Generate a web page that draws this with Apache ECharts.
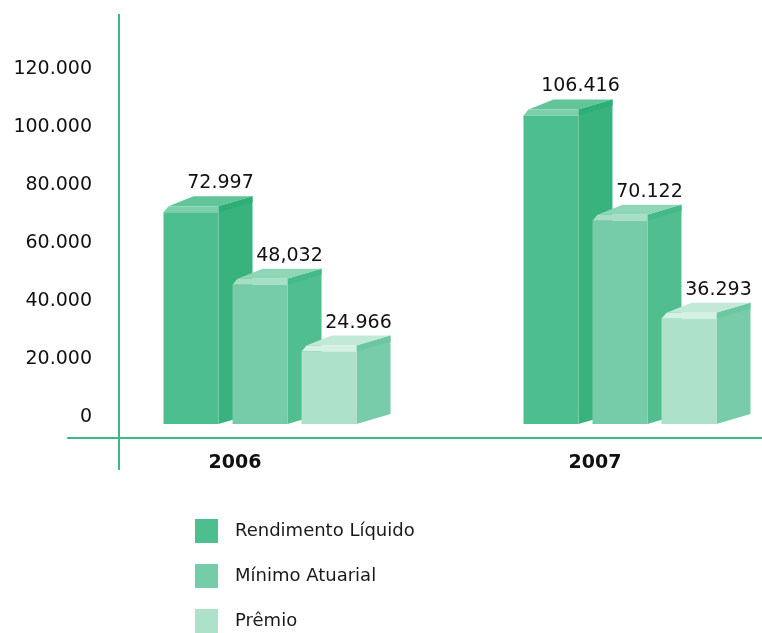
<!DOCTYPE html>
<html>
<head>
<meta charset="utf-8">
<script src="https://cdn.jsdelivr.net/npm/echarts@6/dist/echarts.min.js"></script>
<style>
  html, body { margin: 0; padding: 0; background: #ffffff; }
  #chart { width: 762px; height: 633px; }
</style>
</head>
<body>
<div id="chart"></div>
<script>
// Data
const categories = ['2006', '2007'];
const seriesNames = ['Rendimento Líquido', 'Mínimo Atuarial', 'Prêmio'];
const rendimento = [72997, 106416];
const minimo = [48032, 70122];
const premio = [24966, 36293];
const rendimentoLabels = ['72.997', '106.416'];
const minimoLabels = ['48,032', '70.122'];
const premioLabels = ['24.966', '36.293'];
const yTickLabels = ['0', '20.000', '40.000', '60.000', '80.000', '100.000', '120.000'];

// Box styling: front face, side face, lid, front lid edge, side lid edge
const palettes = [
  { front: '#4dbe8e', side: '#38b37e', top: '#62c59a', strip: '#7ed0aa', bevel: '#2dae77' },
  { front: '#76cba8', side: '#50be8e', top: '#8fd6b7', strip: '#a8dec6', bevel: '#45b986' },
  { front: '#aee1ca', side: '#78cca9', top: '#c2e9d7', strip: '#d5f0e4', bevel: '#6cc7a1' }
];
const BAR_W = 55;      // front face width
const DEPTH_X = 34;    // oblique depth, horizontal
const DEPTH_Y = 10;    // oblique depth, vertical
const LIP = 6;         // height of the bevelled lid edge
const STEP = 69;       // distance between neighbouring boxes
const SHIFT = 25;      // shift of the middle box from the category position
const FONT = 'DejaVu Sans';
const GREEN = '#3dba83';

const valueSets = [rendimento, minimo, premio];
const labelSets = [rendimentoLabels, minimoLabels, premioLabels];

function makeRender(s) {
  return function (params, api) {
    const cat = api.value(0);
    const val = api.value(1);
    const top = api.coord([cat, val]);
    const base = api.coord([cat, 0]);
    const x0 = top[0] + SHIFT + (s - 1) * STEP - BAR_W / 2;
    const x1 = x0 + BAR_W;
    const xb = x1 + DEPTH_X;
    const yT = top[1];
    const yB = base[1];
    const yL = yT - LIP;
    const p = palettes[s];
    return {
      type: 'group',
      children: [
        // side face
        { type: 'polygon', shape: { points: [[x1, yB], [x1, yL], [xb, yL - DEPTH_Y], [xb, yB - DEPTH_Y]] },
          style: { fill: p.side } },
        // bevelled edge on top of the side face
        { type: 'polygon', shape: { points: [[x1, yT], [x1, yL], [xb, yL - DEPTH_Y], [xb, yT - DEPTH_Y]] },
          style: { fill: p.bevel } },
        // lid
        { type: 'polygon', shape: { points: [[x0 + 5, yL], [x1, yL], [xb, yL - DEPTH_Y], [x0 + 30, yL - DEPTH_Y]] },
          style: { fill: p.top } },
        // bevelled edge on top of the front face
        { type: 'polygon', shape: { points: [[x0, yT], [x1, yT], [x1, yL], [x0 + 5, yL]] },
          style: { fill: p.strip } },
        // front face
        { type: 'rect', shape: { x: x0, y: yT, width: BAR_W, height: yB - yT },
          style: { fill: p.front } },
        { type: 'text',
          style: { text: labelSets[s][params.dataIndex], x: x1 + 2, y: yT - 29,
                   align: 'center', verticalAlign: 'middle',
                   fontFamily: FONT, fontSize: 19, fill: '#111111' } }
      ]
    };
  };
}

const chart = echarts.init(document.getElementById('chart'), null, { renderer: 'canvas' });
chart.setOption({
  backgroundColor: '#ffffff',
  animation: false,
  color: palettes.map(p => p.front),
  grid: { left: 68, right: 0, top: 18, bottom: 209, containLabel: false },
  legend: {
    orient: 'vertical', left: 195, top: 519, height: 118, padding: 0,
    itemWidth: 23, itemHeight: 24, itemGap: 21,
    icon: 'rect', selectedMode: false,
    textStyle: { fontFamily: FONT, fontSize: 18, color: '#1a1a1a', padding: [0, 0, 0, 12] },
    data: seriesNames
  },
  // Category positions 0 and 1 on a value scale so the two groups can sit
  // closer to the page edges than a category band would allow.
  xAxis: {
    type: 'value', min: -0.464, max: 1.464, offset: 14,
    axisLine: { onZero: false, lineStyle: { color: GREEN, width: 2 } },
    axisTick: { show: false },
    splitLine: { show: false },
    axisLabel: {
      customValues: categories.map((c, i) => i),
      formatter: v => categories[Math.round(v)] || '',
      fontFamily: FONT, fontSize: 19, fontWeight: 'bold', color: '#111111', margin: 16
    }
  },
  yAxis: {
    type: 'value', min: 0, max: 140000, interval: 20000, offset: -51,
    axisLine: { show: false },
    axisTick: { show: false },
    splitLine: { show: false },
    axisLabel: {
      margin: 27, verticalAlign: 'bottom', lineHeight: 13,
      fontFamily: FONT, fontSize: 19, color: '#111111',
      formatter: v => yTickLabels[Math.round(v / 20000)] || ''
    }
  },
  graphic: [
    { type: 'line', shape: { x1: 119, y1: 14, x2: 119, y2: 470 },
      style: { stroke: GREEN, lineWidth: 2 }, silent: true }
  ],
  series: seriesNames.map((name, s) => ({
    name: name,
    type: 'custom',
    silent: true,
    itemStyle: { color: palettes[s].front },
    renderItem: makeRender(s),
    encode: { x: 0, y: 1 },
    data: valueSets[s].map((v, i) => [i, v])
  }))
});
</script>
</body>
</html>
